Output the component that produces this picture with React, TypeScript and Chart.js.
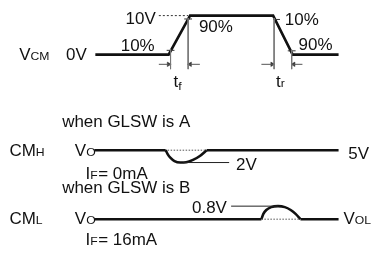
import React, { useEffect, useRef } from "react";
import { Chart, registerables } from "chart.js";
Chart.register(...registerables);

// Diagram space: x = time units (0..388), y = row level units (0..256, top-down)
const vcmTime = [93, 168, 190, 275, 295, 342];
const vcmLevel = [52, 52, 11.5, 11.5, 52, 52];

const cmhFlatA = [[92, 151], [165, 151]];
const cmhFlatB = [[207, 151], [342, 151]];
const cmhDipTime = [165, 167, 170, 174, 180, 186, 193, 200, 207];
const cmhDipLevel = [151, 155, 159, 162.3, 163.8, 163.5, 161, 157, 151];

const cmlFlatA = [[92, 222.5], [263, 222.5]];
const cmlFlatB = [[303, 222.5], [342, 222.5]];
const cmlBumpTime = [263, 265, 268, 273, 280, 287, 293, 298, 303];
const cmlBumpLevel = [222.5, 217, 213, 210, 209, 210, 213, 217, 222.5];

// thin segments [x1, y1, x2, y2]
const edgeTicks = [[166, 47.5, 174, 47.5], [184, 15, 192, 15], [275, 15.5, 282, 15.5], [290, 48, 298, 48]];
const edgeVerticals = [[170, 46, 170, 67], [188, 14, 188, 67], [276, 14, 276, 67], [294, 47, 294, 67]];
const arrowShafts = [[158, 62, 170, 62], [188, 62, 200, 62], [263, 62, 276, 62], [294, 62, 305, 62]];
const leaders = [[183, 163.8, 230, 163.8], [232, 209, 280, 209]];
const refDashed = [[158, 11.5, 188, 11.5]];
const refDotted = [[167, 151, 207, 151], [263, 222.5, 303, 222.5]];

const arrowTipX = [168, 190, 274, 296];
const arrowTipY = [62, 62, 62, 62];
const arrowRot = [90, -90, 90, -90];

// labels: parts [text, style] (0 normal, 1 small, 2 subscript)
const labelParts: [string, number][][] = [
  [["V", 0], ["CM", 1]],
  [["0V", 0]],
  [["10V", 0]],
  [["10%", 0]],
  [["90%", 0]],
  [["10%", 0]],
  [["90%", 0]],
  [["t", 0], ["f", 2]],
  [["t", 0], ["r", 1]],
  [["when GLSW is A", 0]],
  [["CM", 0], ["H", 1]],
  [["V", 0], ["O", 1]],
  [["5V", 0]],
  [["2V", 0]],
  [["I", 0], ["F", 1], ["= 0mA", 0]],
  [["when GLSW is B", 0]],
  [["CM", 0], ["L", 1]],
  [["V", 0], ["O", 1]],
  [["0.8V", 0]],
  [["V", 0], ["OL", 1]],
  [["I", 0], ["F", 1], ["= 16mA", 0]],
];
const labelX = [15, 63, 124, 119, 199, 287, 301, 173, 278, 59, 5, 72, 352, 237, 83, 59, 5, 72, 192, 347, 83];
const labelY = [58, 58, 20, 48, 28, 21, 47, 85, 85, 127, 157, 157, 160, 172, 181, 195, 228, 228, 216, 228, 249];

const FONT = "'Liberation Sans', Arial, sans-serif";
const STRETCH = 1.06;

const pts = (xs: number[], ys: number[]) => xs.map((x, i) => ({ x, y: ys[i] }));
const pairs = (p: number[][]) => p.map(([x, y]) => ({ x, y }));
const segs = (s: number[][]) => {
  const out: any[] = [];
  s.forEach(([x1, y1, x2, y2]) => {
    out.push({ x: x1, y: y1 }, { x: x2, y: y2 }, { x: x2, y: null });
  });
  return out;
};

const thick = (data: any[], extra: any = {}) => ({
  data, showLine: true, borderColor: "#111", borderWidth: 2.6, pointRadius: 0, fill: false, tension: 0, ...extra,
});
const thin = (data: any[], color: string, extra: any = {}) => ({
  data, showLine: true, borderColor: color, borderWidth: 1, pointRadius: 0, fill: false, spanGaps: false, ...extra,
});

const textPlugin = {
  id: "diagramText",
  afterDatasetsDraw(chart: any) {
    const { ctx, scales } = chart;
    ctx.save();
    ctx.fillStyle = "#111";
    ctx.textBaseline = "alphabetic";
    labelParts.forEach((parts, i) => {
      let px = scales.x.getPixelForValue(labelX[i]);
      const py = scales.y.getPixelForValue(labelY[i]);
      parts.forEach(([t, s]) => {
        ctx.font = (s === 0 ? "16px " : "11.5px ") + FONT;
        const dy = s === 2 ? 3 : 0;
        ctx.save();
        ctx.translate(px, py + dy);
        ctx.scale(STRETCH, 1);
        ctx.fillText(t, 0, 0);
        ctx.restore();
        px += ctx.measureText(t).width * STRETCH + (s === 0 ? 0 : 0.5);
      });
    });
    ctx.restore();
  },
};

export default function App() {
  const ref = useRef<HTMLCanvasElement>(null);
  useEffect(() => {
    if (!ref.current) return;
    const chart = new Chart(ref.current, {
      type: "scatter",
      data: {
        datasets: [
          thin(segs(edgeVerticals), "#777"),
          thin(segs(edgeTicks), "#333"),
          thin(segs(arrowShafts), "#555"),
          thin(segs(leaders), "#222"),
          thin(segs(refDashed), "#333", { borderDash: [2, 2] }),
          thin(segs(refDotted), "#555", { borderDash: [1.5, 1.5] }),
          thick(pts(vcmTime, vcmLevel)),
          thick(pairs(cmhFlatA)),
          thick(pairs(cmhFlatB)),
          thick(pts(cmhDipTime, cmhDipLevel), { cubicInterpolationMode: "monotone" }),
          thick(pairs(cmlFlatA)),
          thick(pairs(cmlFlatB)),
          thick(pts(cmlBumpTime, cmlBumpLevel), { cubicInterpolationMode: "monotone" }),
          {
            data: pts(arrowTipX, arrowTipY),
            showLine: false,
            pointStyle: "triangle",
            pointRadius: 2.6,
            rotation: arrowRot,
            backgroundColor: "#333",
            borderColor: "#333",
            borderWidth: 0.5,
          },
        ],
      },
      options: {
        responsive: false,
        animation: false,
        events: [],
        layout: { padding: 0 },
        plugins: { legend: { display: false }, tooltip: { enabled: false } },
        scales: {
          x: { type: "linear", min: 0, max: 388, display: false },
          y: { type: "linear", min: 0, max: 256, reverse: true, display: false },
        },
      },
      plugins: [textPlugin],
    });
    return () => chart.destroy();
  }, []);
  return (
    <div style={{ position: "absolute", left: 0, top: 0, width: 388, height: 256, background: "#fff" }}>
      <canvas ref={ref} width={388} height={256} style={{ width: 388, height: 256 }} />
    </div>
  );
}
